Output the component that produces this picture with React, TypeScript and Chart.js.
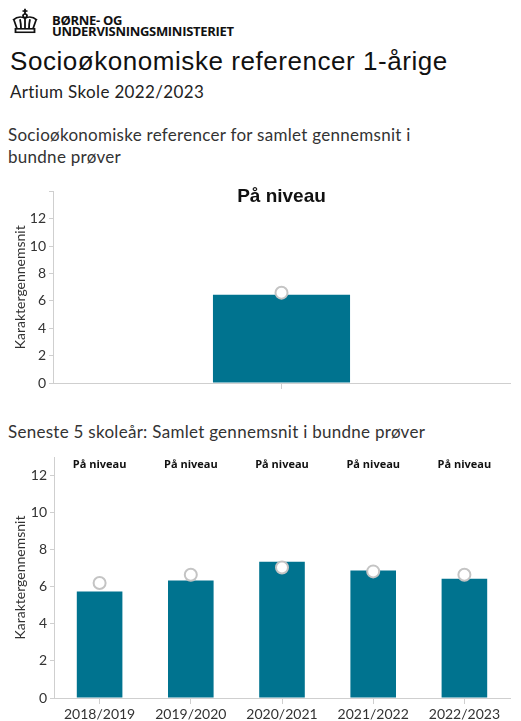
import React, { useEffect, useRef } from "react";
import { Chart, registerables } from "chart.js";

Chart.register(...registerables);

const categories1 = [""];
const barValues1 = [6.45];
const refValues1 = [6.6];
const topLabels1 = ["På niveau"];

const categories2 = ["2018/2019", "2019/2020", "2020/2021", "2021/2022", "2022/2023"];
const barValues2 = [5.75, 6.34, 7.35, 6.88, 6.43];
const refValues2 = [6.2, 6.65, 7.04, 6.83, 6.65];
const topLabels2 = ["På niveau", "På niveau", "På niveau", "På niveau", "På niveau"];

const yTicksMax = 12;
const BAR = "#00738f";

type Cfg = {
  categories: string[];
  bars: number[];
  refs: number[];
  topLabels: string[];
  topFont: string;
  topY: number;
  yMax: number;
  yWidth: number;
  xHeight: number;
  padTop: number;
  barPct: number;
  width: number;
  height: number;
};

function BarChart(p: Cfg) {
  const ref = useRef<HTMLCanvasElement | null>(null);
  useEffect(() => {
    if (!ref.current) return;
    const topPlugin = {
      id: "topLabels",
      afterDatasetsDraw(chart: any) {
        const ctx = chart.ctx;
        const xs = chart.scales.x;
        ctx.save();
        ctx.fillStyle = "#111";
        ctx.font = p.topFont;
        ctx.textAlign = "center";
        ctx.textBaseline = "middle";
        p.topLabels.forEach((t, i) => {
          ctx.fillText(t, xs.getPixelForValue(i), p.topY);
        });
        ctx.restore();
      },
    };
    const chart = new Chart(ref.current, {
      type: "bar",
      data: {
        labels: p.categories,
        datasets: [
          {
            type: "line",
            data: p.refs,
            showLine: false,
            pointStyle: "circle",
            pointRadius: 6,
            pointBorderWidth: 2,
            pointBackgroundColor: "#ffffff",
            pointBorderColor: "#c4c4c4",
            order: 0,
          } as any,
          {
            type: "bar",
            data: p.bars,
            backgroundColor: BAR,
            categoryPercentage: 1,
            barPercentage: p.barPct,
            order: 1,
          },
        ],
      },
      options: {
        responsive: false,
        animation: false,
        layout: { padding: { top: p.padTop, right: 11, left: 0, bottom: 0 } },
        plugins: { legend: { display: false }, tooltip: { enabled: false }, title: { display: false } },
        scales: {
          x: {
            grid: { drawOnChartArea: false, offset: false, tickLength: 6, color: "#cfcfcf" },
            border: { color: "#cfcfcf" },
            ticks: { color: "#333", font: { family: "Lato", size: 14 }, padding: 2 },
            afterFit: (s: any) => {
              s.height = p.xHeight;
            },
          },
          y: {
            min: 0,
            max: p.yMax,
            grid: { drawOnChartArea: false, tickLength: 4, color: "#cfcfcf" },
            border: { color: "#cfcfcf" },
            ticks: {
              stepSize: 2,
              includeBounds: false,
              color: "#333",
              font: { family: "Lato", size: 14 },
              padding: 3,
              callback: (v: any) => (v <= yTicksMax ? String(v) : ""),
            },
            title: {
              display: true,
              text: "Karaktergennemsnit",
              color: "#333",
              font: { family: "Lato", size: 14 },
              padding: { top: 12, bottom: 0 },
            },
            afterFit: (s: any) => {
              s.width = p.yWidth;
            },
          },
        },
      },
      plugins: [topPlugin],
    });
    return () => chart.destroy();
  }, []);
  return <canvas ref={ref} width={p.width} height={p.height} style={{ display: "block", width: p.width, height: p.height }} />;
}

const abs = (top: number, left: number): React.CSSProperties => ({ position: "absolute", top, left, margin: 0, whiteSpace: "nowrap" });

function Crown() {
  return (
    <svg width="28" height="26" viewBox="0 0 28 30" preserveAspectRatio="none" style={{ position: "absolute", top: 8, left: 11 }}>
      <g fill="none" stroke="#111" strokeWidth="1.8">
        <line x1="14" y1="1" x2="14" y2="7" />
        <line x1="11.5" y1="3.5" x2="16.5" y2="3.5" />
        <circle cx="14" cy="9" r="2" />
        <path d="M2 14 Q8 8 14 12 Q20 8 26 14" />
        <path d="M3 14 L6 24 M25 14 L22 24" />
        <path d="M9 13 Q10 18 10 24 M19 13 Q18 18 18 24 M14 12 L14 24" />
        <rect x="4.5" y="24" width="19" height="4" />
      </g>
    </svg>
  );
}

export default function App() {
  const logoFont: React.CSSProperties = {
    fontFamily: "'Open Sans'",
    fontWeight: 700,
    fontSize: 13,
    letterSpacing: "-0.3px",
    color: "#111",
    lineHeight: "12px",
  };
  const lato: React.CSSProperties = { fontFamily: "Lato", fontSize: 17, letterSpacing: "0.28px", color: "#333", lineHeight: "23px" };
  return (
    <div style={{ position: "absolute", top: 0, left: 0, width: 521, height: 721, background: "#fff", overflow: "hidden" }}>
      <Crown />
      <div style={{ ...abs(14, 52), ...logoFont }}>BØRNE- OG</div>
      <div style={{ ...abs(25, 52), ...logoFont }}>UNDERVISNINGSMINISTERIET</div>
      <div
        style={{
          ...abs(45, 10),
          fontFamily: "'Liberation Sans', Arial",
          fontSize: 26,
          letterSpacing: "0.55px",
          color: "#111",
          lineHeight: "32px",
        }}
      >
        Socioøkonomiske referencer 1-årige
      </div>
      <div style={{ ...abs(80, 10), fontFamily: "Lato", fontSize: 17, letterSpacing: "0.35px", color: "#222", lineHeight: "23px" }}>
        Artium Skole 2022/2023
      </div>
      <div style={{ ...abs(123, 8), ...lato }}>Socioøkonomiske referencer for samlet gennemsnit i</div>
      <div style={{ ...abs(145, 8), ...lato }}>bundne prøver</div>
      <div style={abs(180, 0)}>
        <BarChart
          categories={categories1}
          bars={barValues1}
          refs={refValues1}
          topLabels={topLabels1}
          topFont="bold 19px 'Liberation Sans', Arial"
          topY={17}
          yMax={14}
          yWidth={53}
          xHeight={17}
          padTop={3}
          barPct={0.3}
          width={521}
          height={220}
        />
      </div>
      <div style={{ ...abs(420, 8), ...lato }}>Seneste 5 skoleår: Samlet gennemsnit i bundne prøver</div>
      <div style={abs(440, 0)}>
        <BarChart
          categories={categories2}
          bars={barValues2}
          refs={refValues2}
          topLabels={topLabels2}
          topFont="bold 11px 'Open Sans'"
          topY={25}
          yMax={13}
          yWidth={54}
          xHeight={23}
          padTop={17}
          barPct={0.5}
          width={521}
          height={281}
        />
      </div>
    </div>
  );
}
